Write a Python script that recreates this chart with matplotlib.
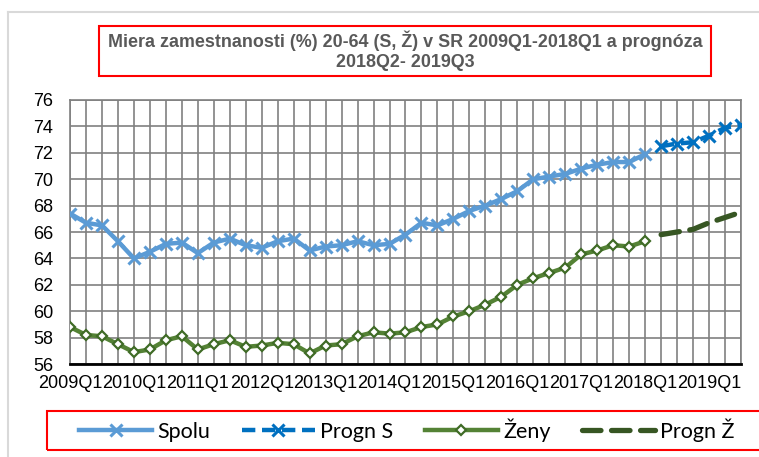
import matplotlib
matplotlib.use("Agg")
import matplotlib.pyplot as plt
from matplotlib.patches import Rectangle
from matplotlib.lines import Line2D

# quarters 2009Q1 .. 2019Q3
years = list(range(2009, 2020))
quarters = [f"{y}Q{q}" for y in years for q in range(1, 5)][:43]

spolu = [67.4, 66.7, 66.5, 65.3, 64.0, 64.5, 65.1, 65.2, 64.4, 65.2,
         65.5, 65.0, 64.8, 65.3, 65.5, 64.6, 64.9, 65.0, 65.3, 65.0,
         65.1, 65.8, 66.7, 66.5, 67.0, 67.6, 68.0, 68.5, 69.1, 70.0,
         70.2, 70.4, 70.8, 71.1, 71.3, 71.3, 71.9]
progn_s = [72.5, 72.7, 72.8, 73.3, 73.9, 74.1]
zeny = [58.8, 58.2, 58.1, 57.5, 56.9, 57.1, 57.8, 58.1, 57.1, 57.5,
        57.8, 57.3, 57.4, 57.6, 57.5, 56.8, 57.4, 57.5, 58.1, 58.4,
        58.3, 58.4, 58.8, 59.0, 59.6, 60.0, 60.5, 61.1, 62.0, 62.5,
        62.9, 63.3, 64.3, 64.6, 65.0, 64.9, 65.3]
progn_z = [65.8, 66.0, 66.2, 66.7, 67.1, 67.5]

x_hist = list(range(len(spolu)))
x_fc = list(range(len(spolu), len(spolu) + len(progn_s)))

title = "Miera zamestnanosti (%) 20-64 (S, Ž) v SR 2009Q1-2018Q1 a prognóza\n2018Q2- 2019Q3"

fig = plt.figure(figsize=(7.59, 4.57), dpi=100)
ax = fig.add_axes([70 / 759, 1 - 364 / 457, 671 / 759, 264 / 457])

ax.plot(x_hist, spolu, color="#5B9BD5", lw=3.2, marker="x", ms=9, mew=2.2,
        label="Spolu", zorder=3)
ax.plot(x_fc, progn_s, color="#0070C0", lw=3.2, ls=(0, (3, 1.5)), marker="x",
        ms=9, mew=2.2, label="Progn S", zorder=3)
ax.plot(x_hist, zeny, color="#548235", lw=3.2, marker="D", ms=5.5, mew=1.6,
        mfc="white", mec="#3F6B26", label="Ženy", zorder=3)
ax.plot(x_fc, progn_z, color="#375623", lw=3.8, ls=(0, (3.5, 2)),
        dash_capstyle="round", label="Progn Ž", zorder=3)

ax.set_xlim(0, len(quarters) - 1)
ax.set_ylim(56, 76)
ax.set_yticks(range(56, 77, 2))
ax.set_xticks(range(len(quarters)), minor=True)
ax.set_xticks(range(0, len(quarters), 4))
ax.set_xticklabels([quarters[i] for i in range(0, len(quarters), 4)])
ax.grid(True, which="both", axis="x", color="#808080", lw=1.2)
ax.grid(True, which="major", axis="y", color="#808080", lw=1.2)
ax.tick_params(which="both", length=0, labelsize=13, pad=8)
ax.tick_params(axis="y", pad=12)
for lbl in ax.get_xticklabels() + ax.get_yticklabels():
    lbl.set_fontfamily("Liberation Sans")
for s in ["top", "right", "left"]:
    ax.spines[s].set_color("#808080")
    ax.spines[s].set_linewidth(1.2)
ax.spines["bottom"].set_color("black")
ax.spines["bottom"].set_linewidth(2)

# outer light border
fig.add_artist(Line2D([8 / 759, 1], [1 - 12 / 457] * 2, color="#D9D9D9", lw=1.5))
fig.add_artist(Line2D([8 / 759] * 2, [0, 1 - 12 / 457], color="#D9D9D9", lw=1.5))

# title box
fig.add_artist(Rectangle((99 / 759, 1 - 76 / 457), 612 / 759, 50 / 457,
                         transform=fig.transFigure, fill=False,
                         edgecolor="red", lw=1.5))
fig.text(405 / 759, 1 - 51 / 457, title, ha="center", va="center",
         fontsize=12.9, fontweight="bold", color="#595959",
         family="Liberation Sans", linespacing=1.2)

# legend box
fig.add_artist(Rectangle((47 / 759, 1 - 450 / 457), 0.98, 39.5 / 457,
                         transform=fig.transFigure, fill=False,
                         edgecolor="red", lw=1.5))
fig.legend(loc="center left", bbox_to_anchor=(79 / 759, 1 - 430 / 457),
           ncol=4, frameon=False, numpoints=1, handlelength=3.4,
           handletextpad=0.25, columnspacing=1.45, borderpad=0,
           borderaxespad=0, prop={"family": "Lato", "size": 15.5})

fig.savefig("out.png", dpi=100)
